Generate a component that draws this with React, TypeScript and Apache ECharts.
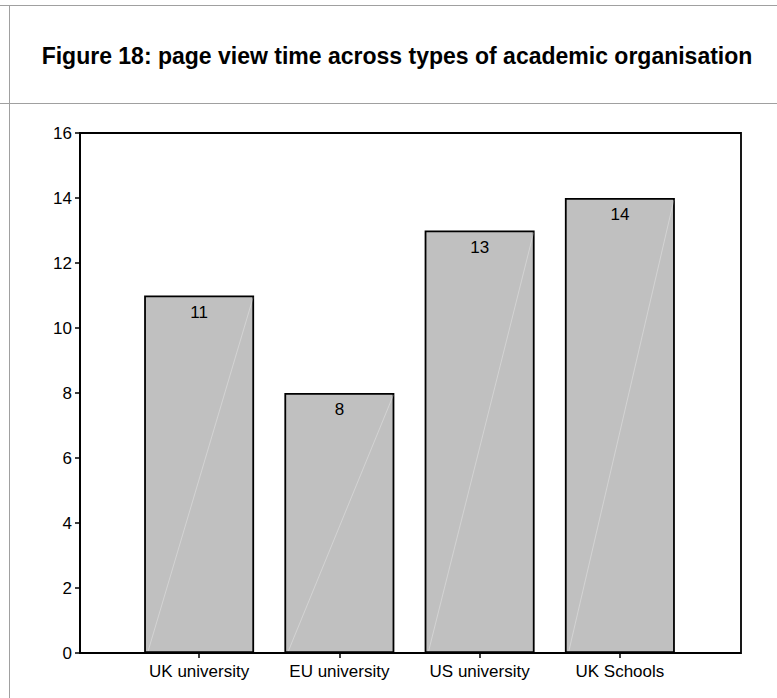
import React, { useEffect, useRef } from "react";
import * as echarts from "echarts";

const categories = ["UK university", "EU university", "US university", "UK Schools"];
const values = [11, 8, 13, 14];
const yTicks = { min: 0, max: 16, interval: 2 };
const titleText = "Figure 18: page view time across types of academic organisation";

export default function App() {
  const ref = useRef<HTMLDivElement>(null);
  useEffect(() => {
    const chart = echarts.init(ref.current!, null, { renderer: "svg" });
    const font = "'Liberation Sans', Arial, sans-serif";
    chart.setOption({
      animation: false,
      backgroundColor: "#ffffff",
      textStyle: { fontFamily: font },
      graphic: [
        { type: "line", shape: { x1: 0, y1: 5.5, x2: 777, y2: 5.5 }, style: { stroke: "#a0a0a0", lineWidth: 1 } },
        { type: "line", shape: { x1: 0, y1: 103.5, x2: 777, y2: 103.5 }, style: { stroke: "#a0a0a0", lineWidth: 1 } },
        { type: "line", shape: { x1: 9.5, y1: 5, x2: 9.5, y2: 698 }, style: { stroke: "#a0a0a0", lineWidth: 1 } },
        {
          type: "text",
          x: 397,
          y: 56,
          style: {
            text: titleText,
            font: `bold 23px ${font}`,
            fill: "#000",
            textAlign: "center",
            textVerticalAlign: "middle",
          },
        },
        {
          type: "rect",
          shape: { x: 80, y: 133, width: 661, height: 520 },
          style: { fill: "none", stroke: "#000", lineWidth: 1.8 },
          z: 10,
        },
      ],
      grid: { left: 129, right: 87, top: 133, bottom: 45 },
      xAxis: {
        type: "category",
        data: categories,
        axisLine: { show: false },
        axisTick: { show: true, alignWithLabel: true, length: 5, lineStyle: { color: "#000", width: 1.5 } },
        axisLabel: { color: "#000", fontSize: 17, margin: 10, fontFamily: font },
      },
      yAxis: {
        type: "value",
        min: yTicks.min,
        max: yTicks.max,
        interval: yTicks.interval,
        offset: 49,
        axisLine: { show: true, lineStyle: { color: "#000", width: 1.8 } },
        axisTick: { show: true, length: 5, lineStyle: { color: "#000", width: 1.5 } },
        axisLabel: { color: "#000", fontSize: 17, margin: 8, fontFamily: font },
        splitLine: { show: false },
      },
      series: [
        {
          type: "bar",
          data: values,
          barWidth: 110,
          itemStyle: { color: "#c0c0c0", borderColor: "#000", borderWidth: 1.8 },
          label: {
            show: true,
            position: "insideTop",
            distance: 8,
            color: "#000",
            fontSize: 17,
            fontFamily: font,
          },
        },
        {
          type: "custom",
          data: values.map((v, i) => [i, v]),
          silent: true,
          z: 3,
          renderItem: (params: any, api: any) => {
            const i = api.value(0);
            const v = api.value(1);
            const base = api.coord([i, 0]);
            const top = api.coord([i, v]);
            return {
              type: "line",
              shape: { x1: base[0] - 51, y1: base[1] - 2, x2: top[0] + 54, y2: top[1] + 2 },
              style: { stroke: "rgba(255,255,255,0.3)", lineWidth: 1 },
            };
          },
        },
      ],
    });
    return () => chart.dispose();
  }, []);
  return <div ref={ref} style={{ width: 777, height: 698, position: "absolute", left: 0, top: 0 }} />;
}
